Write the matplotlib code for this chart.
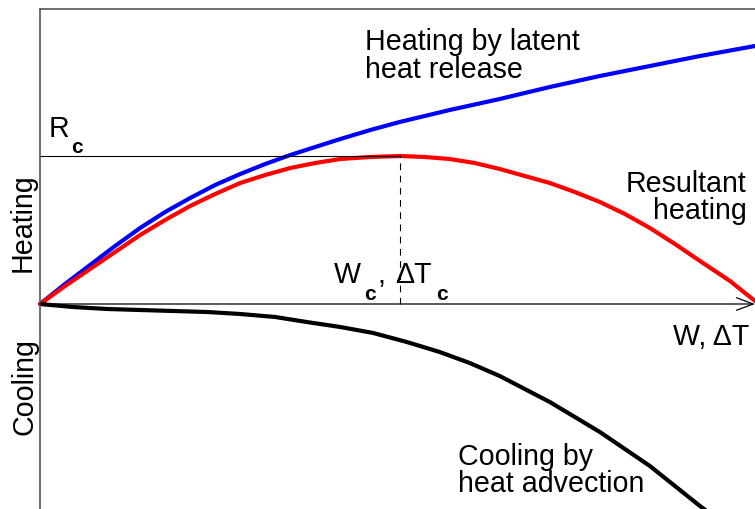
import matplotlib.pyplot as plt

plt.rcParams["font.family"] = ["Liberation Sans", "DejaVu Sans"]

# schematic curves, x = W (0..10), y = heating rate (arbitrary units)
latent_x = [0, 0.35, 0.70, 1.05, 1.40, 1.75, 2.10, 2.45, 2.80, 3.15, 3.50, 3.85, 4.20, 4.62, 5.03,
            5.73, 6.43, 7.13, 7.83, 8.53, 9.23, 10.0]
latent_y = [0, 0.40, 0.78, 1.16, 1.52, 1.84, 2.12, 2.38, 2.60, 2.80, 2.98, 3.14, 3.30, 3.48, 3.64,
            3.88, 4.10, 4.34, 4.56, 4.76, 4.96, 5.16]

result_x = [0, 0.35, 0.70, 1.05, 1.40, 1.75, 2.10, 2.45, 2.80, 3.15, 3.50, 3.85, 4.20, 4.62, 5.03,
            5.38, 5.73, 6.08, 6.43, 6.78, 7.13, 7.48, 7.83, 8.18, 8.53, 8.88, 9.23, 9.65, 10.0]
result_y = [0, 0.36, 0.70, 1.04, 1.38, 1.68, 1.96, 2.20, 2.42, 2.58, 2.72, 2.82, 2.90, 2.94, 2.96,
            2.94, 2.90, 2.82, 2.70, 2.56, 2.42, 2.24, 2.04, 1.80, 1.52, 1.20, 0.86, 0.46, 0.06]

advect_x = [0, 0.46, 0.94, 1.40, 1.86, 2.34, 2.80, 3.29, 3.73, 4.20, 4.66, 5.13, 5.59, 6.01, 6.43,
            6.78, 7.13, 7.48, 7.83, 8.18, 8.53, 8.88, 9.23, 9.40]
advect_y = [0, -0.06, -0.10, -0.12, -0.14, -0.16, -0.20, -0.26, -0.36, -0.46, -0.58, -0.76, -0.96,
            -1.18, -1.44, -1.70, -1.96, -2.26, -2.56, -2.90, -3.24, -3.64, -4.04, -4.22]

w_crit = 5.03
r_crit = 2.96

W, H = 755, 510
fig = plt.figure(figsize=(W / 100, H / 100), dpi=100)
ax = fig.add_axes([40 / W, 0, 715 / W, 500 / H])
ax.set_xlim(0, 10)
ax.set_ylim(-4.1, 5.9)
ax.set_xticks([])
ax.set_yticks([])
for side in ("right", "bottom"):
    ax.spines[side].set_visible(False)
for side in ("left", "top"):
    ax.spines[side].set_color("#555555")
    ax.spines[side].set_linewidth(1.2)

style = dict(lw=3, solid_capstyle="round", solid_joinstyle="round")
ax.plot(latent_x, latent_y, color="#0000ff", clip_on=False, **style)
ax.plot(result_x, result_y, color="#ff0000", clip_on=False, **style)
ax.plot(advect_x, advect_y, color="black", **style)

# axis arrow, critical level and dashed marker
ax.annotate("", xy=(10, 0), xytext=(0, 0),
            arrowprops=dict(arrowstyle="->,head_length=1.2,head_width=0.45", lw=0.9,
                            color="black", shrinkA=0, shrinkB=0), annotation_clip=False)
ax.plot([0, w_crit], [r_crit, r_crit], color="black", lw=0.8)
ax.plot([w_crit, w_crit], [0, r_crit], color="black", lw=0.8, dashes=(6, 5))

def fx(px):
    return px / W

def fy(py):
    return 1 - py / H

fs = 20.6
sub = 15
fig.text(fx(365), fy(50), "Heating by latent", fontsize=fs, va="baseline")
fig.text(fx(365), fy(78), "heat release", fontsize=fs, va="baseline")
fig.text(fx(746), fy(192), "Resultant", fontsize=fs, va="baseline", ha="right")
fig.text(fx(747), fy(219), "heating", fontsize=fs, va="baseline", ha="right")
fig.text(fx(458), fy(465), "Cooling by", fontsize=fs, va="baseline")
fig.text(fx(458), fy(492), "heat advection", fontsize=fs, va="baseline")

fig.text(fx(49), fy(137), "R", fontsize=fs, va="baseline")
fig.text(fx(71), fy(153), "c", fontsize=sub, va="baseline", fontweight="bold")

fig.text(fx(334), fy(283), "W", fontsize=fs, va="baseline")
fig.text(fx(364), fy(300), "c", fontsize=sub, va="baseline", fontweight="bold")
fig.text(fx(377), fy(283), ",", fontsize=fs, va="baseline")
fig.text(fx(395), fy(283), "ΔT", fontsize=fs, va="baseline")
fig.text(fx(436), fy(300), "c", fontsize=sub, va="baseline", fontweight="bold")

fig.text(fx(673), fy(345), "W, ΔT", fontsize=fs, va="baseline")

fig.text(fx(23), fy(223), "Heating", fontsize=fs, rotation=90, ha="center", va="center")
fig.text(fx(25), fy(387), "Cooling", fontsize=fs, rotation=90, ha="center", va="center")

fig.savefig("out.png", dpi=100)
